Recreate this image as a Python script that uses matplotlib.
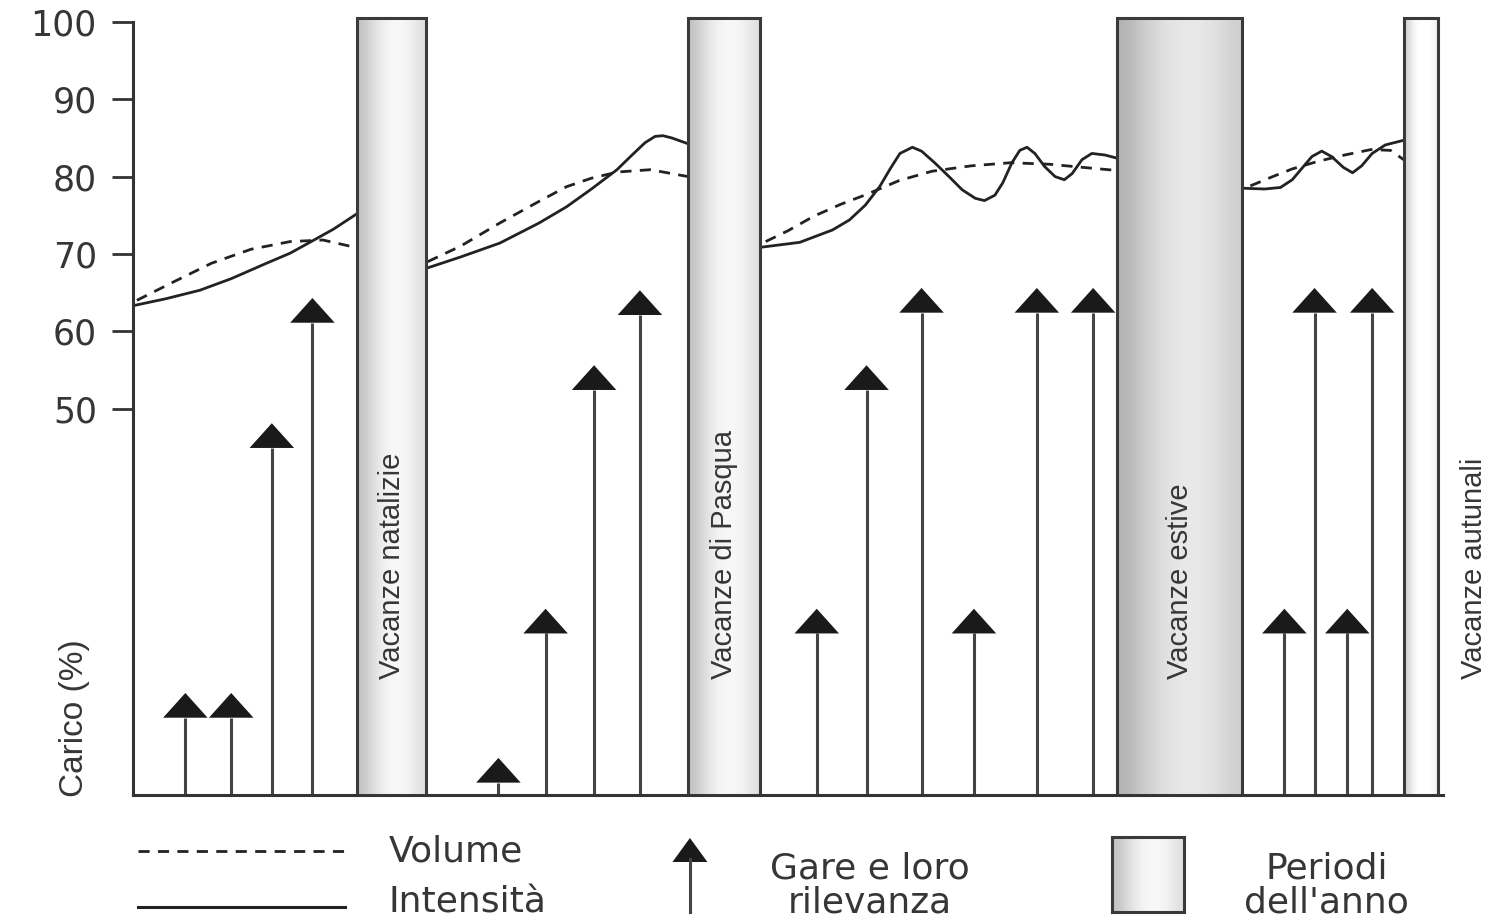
import numpy as np
import matplotlib
matplotlib.use("Agg")
import matplotlib.pyplot as plt
from matplotlib import font_manager
from matplotlib.lines import Line2D
from matplotlib.patches import Rectangle, Polygon

nan = np.nan

# holiday periods (x = position in the season, 0..100)
period_labels = ["Vacanze natalizie", "Vacanze di Pasqua", "Vacanze estive", "Vacanze autunali"]
period_start = [17.1, 42.4, 75.1, 97.0]
period_end = [22.4, 47.9, 84.7, 99.6]

# competitions and their importance (arrow tip, %)
race_x = [4.0, 7.5, 10.6, 13.7, 27.9, 31.5, 35.2, 38.7,
          52.2, 56.0, 60.2, 64.2, 69.0, 73.3, 87.9, 90.2, 92.7, 94.6]
race_level = [13.2, 13.2, 48.1, 64.3, 4.8, 24.1, 55.6, 65.3,
              24.1, 55.6, 65.6, 24.1, 65.6, 65.6, 24.1, 65.6, 24.1, 65.6]

# Volume (dashed), segments separated by nan
volume_x = [0.3, 3, 6, 9, 12, 14.5, 17.1, nan,
            22.5, 25, 28, 31, 33.1, 35, 37, 39.5, 42.4, nan,
            48.3, 50, 52, 54, 56, 58.5, 61, 64, 67, 70, 72.5, 75.1, nan,
            85.3, 87, 88.5, 90.5, 92.5, 94.5, 96, 97.0]
volume_y = [64.0, 66.3, 68.8, 70.6, 71.6, 71.8, 70.8, nan,
            69.0, 71.0, 74.0, 76.8, 78.7, 79.8, 80.6, 80.9, 80.0, nan,
            71.6, 73.0, 74.9, 76.4, 77.7, 79.5, 80.7, 81.4, 81.8, 81.6, 81.2, 80.8, nan,
            78.8, 80.0, 81.0, 82.0, 82.8, 83.5, 83.4, 82.2]

# Intensita (solid)
intensity_x = [0, 2.5, 5.1, 7.5, 10.2, 12, 13.5, 15.3, 17.1, nan,
               22.5, 25, 28, 31, 33.1, 35, 36.95, 38.1, 39.1, 39.85, 40.45, 41.15, 42.3, nan,
               48.1, 50.9, 53.4, 54.7, 55.9, 57.0, 57.8, 58.55, 59.5, 60.2, 61.2, 62.3, 63.3,
               64.3, 65.0, 65.8, 66.4, 67.1, 67.7, 68.25, 68.85, 69.6, 70.4, 71.1, 71.7,
               72.45, 73.2, 74.2, 75.1, nan,
               84.8, 86.4, 87.6, 88.5, 89.2, 90.0, 90.75, 91.5, 92.4, 93.1, 93.8, 94.6,
               95.6, 97.0]
intensity_y = [63.3, 64.2, 65.3, 66.8, 68.8, 70.1, 71.5, 73.2, 75.2, nan,
               68.2, 69.6, 71.4, 74.0, 76.1, 78.4, 80.9, 82.8, 84.4, 85.2, 85.3, 85.0, 84.3, nan,
               70.9, 71.5, 73.1, 74.4, 76.3, 78.7, 81.0, 83.0, 83.8, 83.3, 81.8, 80.0, 78.3,
               77.2, 76.9, 77.6, 79.2, 81.8, 83.4, 83.8, 83.0, 81.3, 80.0, 79.6, 80.4,
               82.2, 83.0, 82.8, 82.4, nan,
               78.5, 78.4, 78.6, 79.6, 81.0, 82.6, 83.3, 82.6, 81.2, 80.5, 81.4, 83.0,
               84.1, 84.7]

yticks = [50, 60, 70, 80, 90, 100]

names = {f.name for f in font_manager.fontManager.ttflist}
narrow = "Liberation Sans Narrow" in names
vfam = "Liberation Sans Narrow" if narrow else "Liberation Sans"
vsize = 25 if narrow else 21

ink = "#222222"
txt = "#363636"

fig = plt.figure(figsize=(14.94, 9.24), dpi=100)
ax = fig.add_axes([0.0890, 0.1396, 0.8768, 0.8449])

ax.plot(volume_x, volume_y, color=ink, lw=2.0, dashes=(4, 3), zorder=2)
ax.plot(intensity_x, intensity_y, color=ink, lw=2.0, zorder=2,
        solid_joinstyle="round")

# competition arrows
hw, hh = 1.7, 3.2
ax.vlines(race_x, 0, np.array(race_level) - hh, color="#444444", lw=2.2, zorder=2)
for x, lv in zip(race_x, race_level):
    ax.add_patch(Polygon([(x - hw, lv - hh), (x + hw, lv - hh), (x, lv)],
                         closed=True, color="#1a1a1a", lw=0, zorder=2))

# holiday bars with a soft shaded fill
shade = np.array([[0.76, 0.86, 0.93, 0.97, 0.97, 0.94, 0.87]])
for i, (s, e, lab) in enumerate(zip(period_start, period_end, period_labels)):
    sh = shade
    if i == 2:
        sh = np.clip(shade - 0.06, 0, 1)
    elif i == 3:
        sh = np.clip(shade + 0.06, 0, 1)
    ax.imshow(sh, extent=(s, e, 0, 100.5), aspect="auto", cmap="gray",
              vmin=0, vmax=1, interpolation="bicubic", zorder=3)
    ax.add_patch(Rectangle((s, 0), e - s, 100.5, fill=False, ec="#3a3a3a", lw=2.2, zorder=4))
    tx = (s + e) / 2 if i < 3 else 102.4
    ax.text(tx, 15, lab, rotation=90, ha="center", va="bottom", fontsize=vsize,
            family=vfam, color=txt, zorder=5, clip_on=False)

ax.set_xlim(0, 100)
ax.set_ylim(0, 101)
for side in ("top", "right"):
    ax.spines[side].set_visible(False)
ax.spines["left"].set_bounds(0, 100)
for side in ("left", "bottom"):
    ax.spines[side].set_linewidth(2.2)
    ax.spines[side].set_color("#333333")
ax.set_xticks([])
ax.set_yticks(yticks)
ax.set_yticklabels([str(v) for v in yticks], family="DejaVu Sans", color=txt)
ax.tick_params(axis="y", length=15, width=2.0, pad=11, labelsize=25, color="#333333")

fig.text(0.050, 0.137, "Carico (%)", rotation=90, ha="center", va="bottom",
         fontsize=28 if narrow else 24, family=vfam, color=txt)

# legend below the plot
fig.add_artist(Line2D([0.0924, 0.231], [0.0790, 0.0790], color=ink, lw=2.0, dashes=(4, 3)))
fig.add_artist(Line2D([0.0924, 0.231], [0.0184, 0.0184], color=ink, lw=2.2))
lt = dict(fontsize=26, family="DejaVu Sans", color=txt, va="center")
fig.text(0.260, 0.0790, "Volume", ha="left", **lt)
fig.text(0.260, 0.0238, "Intensità", ha="left", **lt)

fig.add_artist(Line2D([0.4618, 0.4618], [0.013, 0.070], color="#444444", lw=2.2))
fig.add_artist(Polygon([(0.4501, 0.0671), (0.4735, 0.0671), (0.4618, 0.0931)],
                       closed=True, color="#1a1a1a", lw=0, transform=fig.transFigure))
fig.text(0.582, 0.0606, "Gare e loro", ha="center", **lt)
fig.text(0.582, 0.0238, "rilevanza", ha="center", **lt)

lax = fig.add_axes([0.7443, 0.0130, 0.0482, 0.0812])
lax.imshow(shade, extent=(0, 1, 0, 1), aspect="auto", cmap="gray", vmin=0, vmax=1,
           interpolation="bicubic")
lax.set_xlim(0, 1)
lax.set_ylim(0, 1)
lax.set_xticks([])
lax.set_yticks([])
for sp in lax.spines.values():
    sp.set_linewidth(2.2)
    sp.set_color("#3a3a3a")
fig.text(0.888, 0.0606, "Periodi", ha="center", **lt)
fig.text(0.888, 0.0238, "dell'anno", ha="center", **lt)

fig.savefig("out.png", dpi=100)
